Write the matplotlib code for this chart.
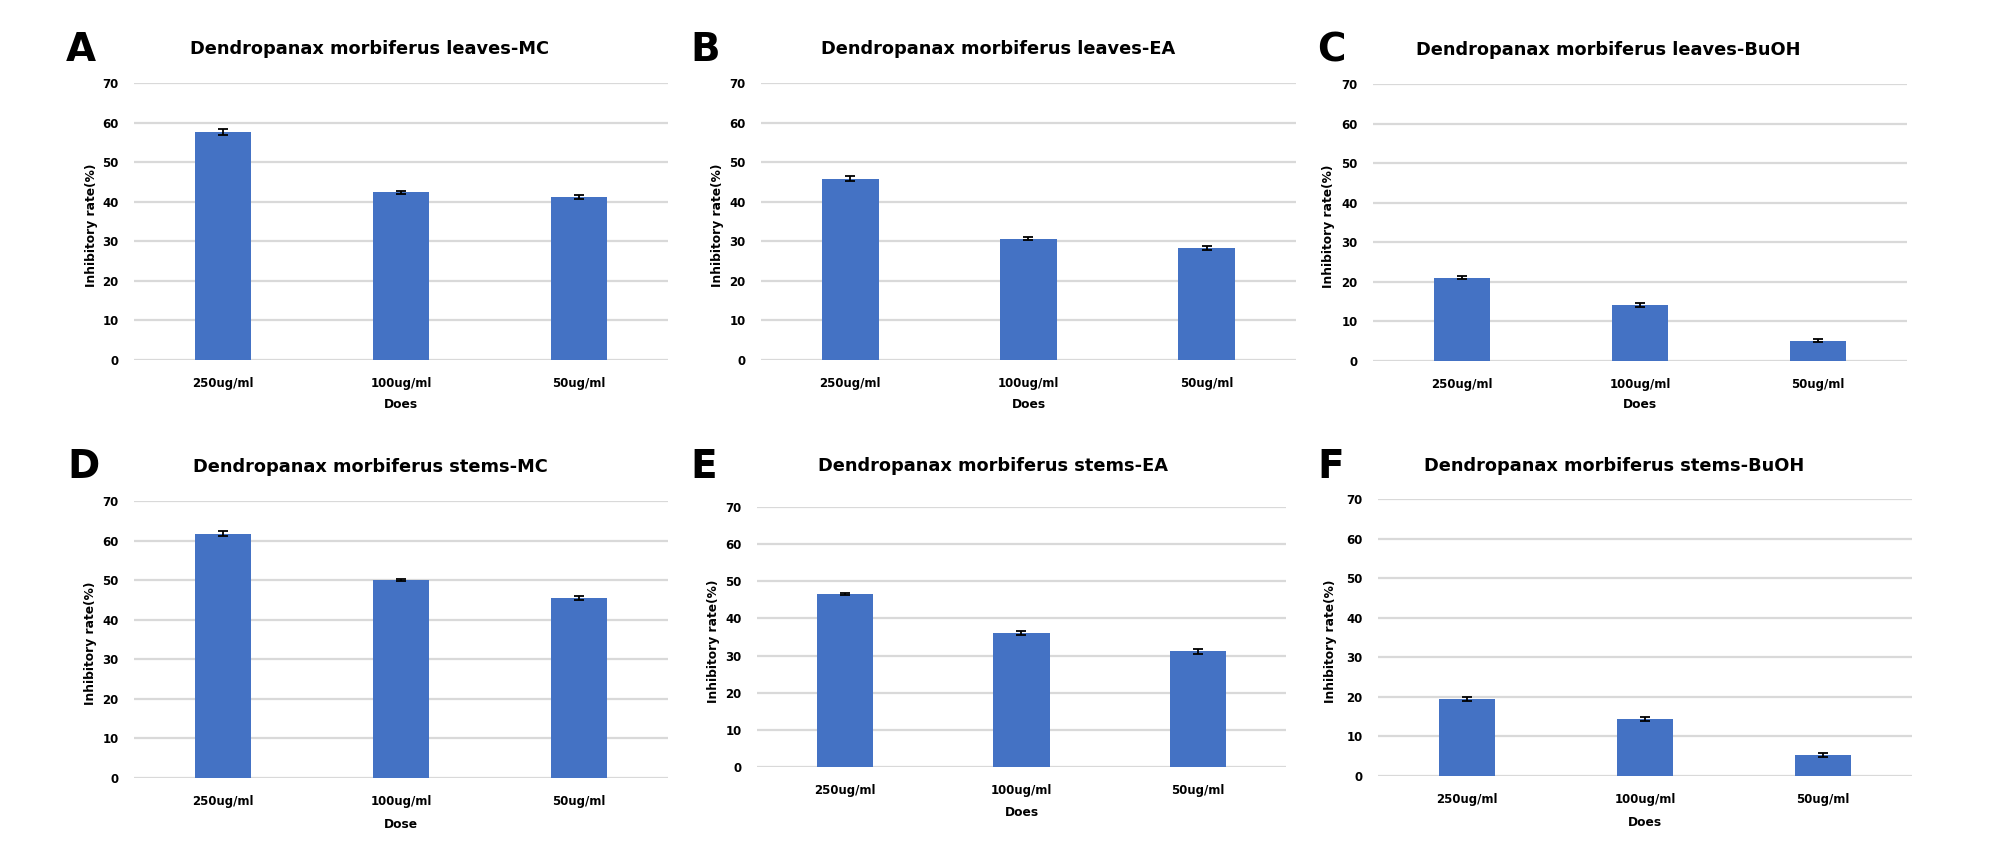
import numpy as np
import matplotlib
matplotlib.use("Agg")
import matplotlib.pyplot as plt

plt.rcParams['font.family'] = ['DejaVu Sans']

# data
doses = ['250ug/ml', '100ug/ml', '50ug/ml']
panel_letters = ['A', 'B', 'C', 'D', 'E', 'F']
titles = ['Dendropanax morbiferus leaves-MC',
          'Dendropanax morbiferus leaves-EA',
          'Dendropanax morbiferus leaves-BuOH',
          'Dendropanax morbiferus stems-MC',
          'Dendropanax morbiferus stems-EA',
          'Dendropanax morbiferus stems-BuOH']
xlabels = ['Does', 'Does', 'Does', 'Dose', 'Does', 'Does']

leaves_mc = [57.6, 42.4, 41.3]
leaves_mc_err = [0.7, 0.4, 0.5]
leaves_ea = [45.8, 30.6, 28.2]
leaves_ea_err = [0.6, 0.4, 0.5]
leaves_buoh = [21.1, 14.2, 5.1]
leaves_buoh_err = [0.5, 0.5, 0.4]
stems_mc = [61.7, 50.0, 45.5]
stems_mc_err = [0.6, 0.3, 0.4]
stems_ea = [46.5, 36.0, 31.1]
stems_ea_err = [0.3, 0.5, 0.6]
stems_buoh = [19.5, 14.4, 5.3]
stems_buoh_err = [0.5, 0.6, 0.5]

values = [leaves_mc, leaves_ea, leaves_buoh, stems_mc, stems_ea, stems_buoh]
errors = [leaves_mc_err, leaves_ea_err, leaves_buoh_err,
          stems_mc_err, stems_ea_err, stems_buoh_err]

W, H = 2008, 857
fig = plt.figure(figsize=(W / 100, H / 100), dpi=100)


def fx(px):
    return px / W


def fy(py):
    return 1 - py / H


# axes boxes in pixels: left, right, top(70), bottom(0)
boxes = [(134, 668, 83, 360), (761, 1296, 83, 360), (1373, 1907, 84, 361),
         (134, 668, 501, 778), (757, 1286, 507, 767), (1378, 1912, 499, 776)]
letter_pos = [(66, 50), (690, 50), (1317, 50), (67, 467), (690, 467), (1317, 467)]
title_pos = [(370, 49), (998, 49), (1608, 50), (370, 467), (993, 466), (1614, 466)]
ylab_x = [92, 717, 1329, 91, 713, 1331]
xlab_y = [405, 405, 405, 824, 813, 823]

bar_color = '#4472C4'
grid_color = '#D9D9D9'

for i in range(6):
    l, r, t, b = boxes[i]
    ax = fig.add_axes([fx(l), fy(b), fx(r - l), (b - t) / H])
    x = np.arange(len(doses))
    ax.bar(x, values[i], width=0.32, color=bar_color, zorder=3)
    ax.errorbar(x, values[i], yerr=errors[i], fmt='none', ecolor='black',
                elinewidth=1.3, capsize=3.5, capthick=1.3, zorder=4)
    ax.set_xlim(-0.5, 2.5)
    ax.set_ylim(0, 70)
    ax.set_yticks(range(0, 71, 10))
    ax.set_xticks(x)
    ax.set_xticklabels(doses, fontsize=8.5, fontweight='bold')
    for lab in ax.get_yticklabels():
        lab.set_fontsize(8.5)
        lab.set_fontweight('bold')
    ax.tick_params(length=0, pad=12)
    ax.tick_params(axis='y', pad=11)
    for s in ax.spines.values():
        s.set_visible(False)
    ax.grid(axis='y', color=grid_color, linewidth=1.6, zorder=0)
    ax.set_axisbelow(True)

    # panel letter, title, axis labels
    fig.text(fx(letter_pos[i][0]), fy(letter_pos[i][1]), panel_letters[i],
             fontsize=28, fontweight='bold', ha='left', va='center')
    fig.text(fx(title_pos[i][0]), fy(title_pos[i][1]), titles[i],
             fontsize=12.8, fontweight='bold', ha='center', va='center')
    fig.text(fx(ylab_x[i]), fy((t + b) / 2 + 4), 'Inhibitory rate(%)',
             fontsize=8.8, fontweight='bold', rotation=90,
             ha='center', va='center')
    fig.text(fx((l + r) / 2), fy(xlab_y[i]), xlabels[i],
             fontsize=8.8, fontweight='bold', ha='center', va='center')

fig.savefig('out.png', dpi=100)
